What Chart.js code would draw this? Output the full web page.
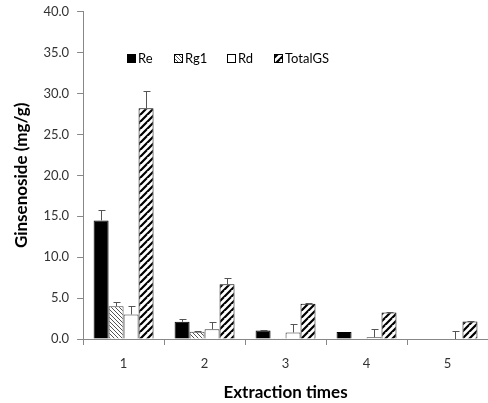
<!DOCTYPE html>
<html>
<head>
<meta charset="utf-8">
<script src="https://cdn.jsdelivr.net/npm/chart.js@4/dist/chart.umd.min.js"></script>
<style>
  html, body { margin: 0; padding: 0; background: #fff; overflow: hidden; }
  #wrap { width: 488px; height: 403px; overflow: hidden; }
  #chart { display: block; margin-top: -4px; }
</style>
</head>
<body>
<div id="wrap"><canvas id="chart" width="488" height="407"></canvas></div>
<script>
// data
const categories = ['1', '2', '3', '4', '5'];
const seriesNames = ['Re', 'Rg1', 'Rd', 'TotalGS'];
const reValues = [14.5, 2.1, 1.05, 0.85, 0];
const rg1Values = [4.0, 0.9, 0.1, 0, 0];
const rdValues = [3.0, 1.2, 0.8, 0.2, 0];
const totalValues = [28.2, 6.7, 4.3, 3.25, 2.15];
const reErr = [1.3, 0.3, 0.1, 0, 0];
const rg1Err = [0.5, 0.1, 0, 0, 0];
const rdErr = [1.0, 0.9, 1.0, 1.05, 0.95];
const totalErr = [2.1, 0.7, 0.1, 0.05, 0.05];
const yTicks = [0, 5, 10, 15, 20, 25, 30, 35, 40];

const FONT = 'Lato, "Open Sans", sans-serif';

// fill patterns
function finePattern() {
  const c = document.createElement('canvas');
  c.width = 4; c.height = 4;
  const g = c.getContext('2d');
  g.fillStyle = '#fff';
  g.fillRect(0, 0, 4, 4);
  g.strokeStyle = '#555';
  g.lineWidth = 1;
  g.beginPath();
  g.moveTo(0, 0); g.lineTo(4, 4);
  g.moveTo(-2, 2); g.lineTo(2, 6);
  g.moveTo(2, -2); g.lineTo(6, 2);
  g.stroke();
  return g.createPattern(c, 'repeat');
}
function stripePattern() {
  const s = 7;
  const c = document.createElement('canvas');
  c.width = s; c.height = s;
  const g = c.getContext('2d');
  g.fillStyle = '#fff';
  g.fillRect(0, 0, s, s);
  g.strokeStyle = '#000';
  g.lineWidth = 2.2;
  g.beginPath();
  g.moveTo(0, s); g.lineTo(s, 0);
  g.moveTo(-s, s); g.lineTo(0, 0);
  g.moveTo(0, 2 * s); g.lineTo(2 * s, 0);
  g.stroke();
  return g.createPattern(c, 'repeat');
}

const fills = ['#000', finePattern(), '#fff', stripePattern()];
const borders = ['#000', '#444', '#333', '#000'];
const allValues = [reValues, rg1Values, rdValues, totalValues];
const allErr = [reErr, rg1Err, rdErr, totalErr];

// upward error whiskers with caps
const errorBars = {
  id: 'errorBars',
  afterDatasetsDraw(chart) {
    const ctx = chart.ctx;
    const y = chart.scales.y;
    ctx.save();
    ctx.strokeStyle = '#555';
    ctx.lineWidth = 1;
    chart.data.datasets.forEach((ds, i) => {
      const meta = chart.getDatasetMeta(i);
      meta.data.forEach((bar, j) => {
        const e = ds.errors[j];
        if (!e) return;
        const x = Math.round(bar.x) + 0.5;
        const y0 = y.getPixelForValue(ds.data[j]);
        const y1 = Math.round(y.getPixelForValue(ds.data[j] + e)) + 0.5;
        ctx.beginPath();
        ctx.moveTo(x, y0);
        ctx.lineTo(x, y1);
        ctx.moveTo(x - 3, y1);
        ctx.lineTo(x + 4, y1);
        ctx.stroke();
      });
    });
    ctx.restore();
  }
};

// legend drawn inside the plot
const innerLegend = {
  id: 'innerLegend',
  afterDraw(chart) {
    const ctx = chart.ctx;
    const xs = [127, 174, 227, 274];
    const yc = 63;
    ctx.save();
    ctx.font = '13px ' + FONT;
    ctx.textBaseline = 'middle';
    chart.data.datasets.forEach((ds, i) => {
      ctx.fillStyle = ds.backgroundColor;
      ctx.fillRect(xs[i], yc - 5, 9, 9);
      ctx.strokeStyle = '#000';
      ctx.lineWidth = 1;
      ctx.strokeRect(xs[i] + 0.5, yc - 4.5, 8, 8);
      ctx.fillStyle = '#000';
      ctx.fillText(ds.label, xs[i] + 11, yc);
    });
    ctx.restore();
  }
};

const datasets = seriesNames.map((name, i) => ({
  label: name,
  data: allValues[i],
  errors: allErr[i],
  backgroundColor: fills[i],
  borderColor: borders[i],
  borderWidth: 1,
  barPercentage: 1.0,
  categoryPercentage: 0.74
}));

new Chart(document.getElementById('chart'), {
  type: 'bar',
  data: { labels: categories, datasets: datasets },
  options: {
    responsive: false,
    animation: false,
    layout: { padding: { top: 0, right: 0, left: 7, bottom: 0 } },
    plugins: {
      legend: { display: false },
      tooltip: { enabled: false }
    },
    scales: {
      x: {
        grid: { drawOnChartArea: false, tickLength: 6, color: '#888', offset: true },
        border: { color: '#888' },
        ticks: { color: '#333', font: { family: FONT, size: 13 }, padding: 11 },
        title: { display: true, text: 'Extraction times', color: '#000', font: { family: FONT, size: 17, weight: 'bold' }, padding: { top: 0, bottom: 0 } }
      },
      y: {
        min: 0, max: 40,
        afterBuildTicks(axis) { axis.ticks = yTicks.map(v => ({ value: v })); },
        grid: { drawOnChartArea: false, tickLength: 6, color: '#888' },
        border: { color: '#888' },
        ticks: { color: '#333', font: { family: FONT, size: 13 }, padding: 8, callback: v => v.toFixed(1) },
        title: { display: true, text: 'Ginsenoside (mg/g)', color: '#000', font: { family: FONT, size: 17, weight: 'bold' }, padding: { bottom: 4 } }
      }
    }
  },
  plugins: [errorBars, innerLegend]
});
</script>
</body>
</html>
